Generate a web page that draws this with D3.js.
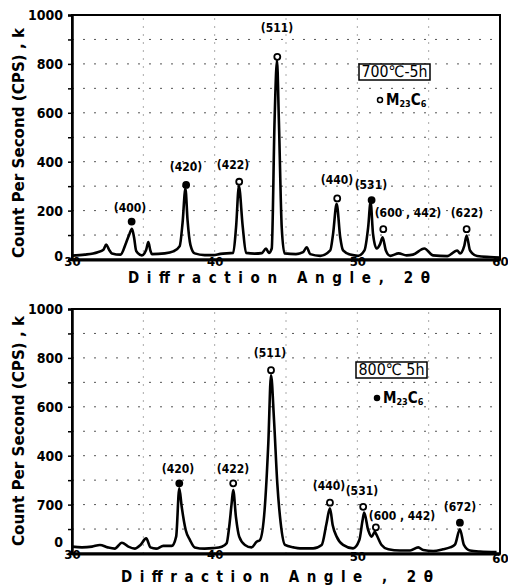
<!DOCTYPE html>
<html>
<head>
<meta charset="utf-8">
<script src="https://cdn.jsdelivr.net/npm/d3@7"></script>
<style>
  body { margin: 0; background: #fff; }
  svg { display: block; }
</style>
</head>
<body>
<script>
// 2-theta / counts
const angle700 = [30.0, 30.9, 31.8, 32.2, 32.4, 32.6, 32.8, 33.4, 33.8, 34.0, 34.2, 34.35, 34.5, 34.9, 35.2, 35.35, 35.5, 35.6, 36.5, 37.1, 37.55, 37.75, 37.95, 38.1, 38.3, 38.6, 39.3, 39.9, 40.4, 41.3, 41.5, 41.7, 41.96, 42.2, 42.8, 43.3, 43.6, 43.8, 44.0, 44.2, 44.37, 44.5, 44.7, 44.9, 45.7, 46.2, 46.45, 46.7, 47.4, 48.1, 48.3, 48.55, 48.8, 49.0, 49.5, 50.05, 50.5, 50.76, 50.93, 51.1, 51.35, 51.6, 51.77, 52.0, 52.3, 52.9, 53.45, 53.9, 54.7, 55.3, 56.3, 57.0, 57.2, 57.5, 57.66, 57.9, 58.4, 59.3, 60.0];
const count700 = [16, 20, 30, 40, 61, 40, 25, 20, 70, 100, 126, 90, 35, 17, 40, 71, 35, 22, 25, 33, 55, 150, 290, 160, 60, 25, 18, 18, 23, 27, 132, 300, 139, 27, 24, 26, 45, 27, 45, 570, 815, 570, 132, 25, 22, 30, 50, 22, 15, 37, 105, 228, 91, 37, 20, 15, 37, 132, 235, 105, 45, 64, 91, 37, 15, 25, 17, 20, 45, 17, 14, 37, 25, 57, 98, 37, 14, 10, 8];

const angle800 = [30.0, 30.7, 31.4, 31.96, 32.5, 33.0, 33.5, 33.95, 34.4, 34.8, 35.2, 35.5, 35.9, 36.4, 36.99, 37.3, 37.52, 37.69, 37.97, 38.27, 38.6, 39.3, 39.9, 40.5, 40.84, 41.02, 41.19, 41.3, 41.49, 41.72, 42.12, 42.59, 42.94, 43.17, 43.5, 43.76, 43.95, 44.16, 44.39, 44.63, 44.93, 45.52, 45.98, 46.9, 47.5, 47.84, 48.08, 48.27, 48.55, 49.0, 49.7, 50.14, 50.37, 50.48, 50.76, 51.0, 51.23, 51.35, 51.7, 52.17, 52.99, 53.7, 54.27, 54.62, 55.32, 56.0, 56.5, 56.84, 57.19, 57.47, 57.89, 58.6, 59.76];
const count800 = [28, 25, 28, 35, 25, 20, 44, 28, 20, 35, 62, 25, 20, 31, 31, 69, 267, 191, 96, 55, 25, 20, 22, 28, 42, 110, 205, 260, 150, 69, 35, 25, 48, 55, 178, 451, 730, 546, 287, 123, 35, 25, 21, 21, 35, 123, 185, 117, 69, 35, 21, 55, 137, 167, 96, 69, 89, 76, 35, 17, 12, 12, 25, 14, 10, 17, 25, 36, 99, 35, 12, 8, 6];

// M23C6 reflections: marker (angle, count) and label anchor (angle, count)
const hkl700 = ["(400)", "(420)", "(422)", "(511)", "(440)", "(531)", "(600 , 442)", "(622)"];
const peakAngle700 = [34.18, 38.0, 41.72, 44.39, 48.59, 51.0, 51.82, 57.66];
const peakCount700 = [155, 305, 318, 829, 250, 243, 124, 124];
const peakFilled700 = [true, true, false, false, false, true, false, false];
const labelAngle700 = [34.06, 37.99, 41.28, 44.37, 48.57, 50.95, 53.55, 57.68];
const labelCount700 = [211, 380, 386, 946, 325, 305, 190, 190];

const hkl800 = ["(420)", "(422)", "(511)", "(440)", "(531)", "(600 , 442)", "(672)"];
const peakAngle800 = [37.52, 41.3, 43.95, 48.08, 50.41, 51.3, 57.19];
const peakCount800 = [287, 287, 750, 208, 191, 107, 126];
const peakFilled800 = [true, false, false, false, false, false, true];
const labelAngle800 = [37.43, 41.28, 43.88, 48.01, 50.32, 53.13, 57.19];
const labelCount800 = [344, 346, 819, 276, 256, 153, 191];

const xTicks = [30, 40, 50, 60];
const yTicks = [0, 100, 200, 300, 400, 500, 600, 700, 800, 900, 1000];
const yLabels700 = {0: "0", 200: "200", 400: "400", 600: "600", 800: "800", 1000: "1000"};
const yLabels800 = {0: "0", 200: "700", 400: "400", 600: "600", 800: "800", 1000: "1000"};
const gridCounts = [100, 200, 300, 400, 500, 600, 700, 800, 900];
const gridAngles = [35, 40, 45, 50, 55];

const narrow = "'Liberation Sans Narrow', 'DejaVu Sans Condensed', 'Arial Narrow', sans-serif";
const cond = "'DejaVu Sans Condensed', 'DejaVu Sans', sans-serif";

const svg = d3.select("body").append("svg")
    .attr("width", 508)
    .attr("height", 588);

function drawPanel(p) {
    const x = d3.scaleLinear().domain([30, 60]).range([72, 500]);
    const y = d3.scaleLinear().domain([0, 1000]).range([p.bottom, p.top]);
    const g = svg.append("g");

    // dotted grid of the recorder paper
    g.selectAll(".hgrid").data(gridCounts).join("line")
        .attr("x1", x(30)).attr("x2", x(60))
        .attr("y1", d => y(d)).attr("y2", d => y(d))
        .attr("stroke", "#555").attr("stroke-width", 1)
        .attr("stroke-dasharray", "2,9");
    g.selectAll(".vgrid").data(gridAngles).join("line")
        .attr("x1", d => x(d)).attr("x2", d => x(d))
        .attr("y1", y(0)).attr("y2", y(1000))
        .attr("stroke", "#555").attr("stroke-width", 1)
        .attr("stroke-dasharray", "1,7");

    // frame
    g.append("rect")
        .attr("x", x(30)).attr("y", y(1000))
        .attr("width", x(60) - x(30)).attr("height", y(0) - y(1000))
        .attr("fill", "none").attr("stroke", "#000").attr("stroke-width", 2);

    // axes
    const yAxis = g.append("g")
        .attr("transform", `translate(${x(30)},0)`)
        .call(d3.axisLeft(y).tickValues(yTicks).tickSize(4).tickPadding(5)
            .tickFormat(d => p.yLabels[d] || ""));
    yAxis.select(".domain").attr("stroke-width", 2.5);
    yAxis.selectAll("line").attr("stroke-width", 1.5);
    yAxis.selectAll("text")
        .attr("font-family", narrow).attr("font-weight", "bold").attr("font-size", 14)
        .attr("fill", "#000")
        .attr("dy", d => d === 0 ? `${p.zeroShift}px` : "0.32em");

    const xAxis = g.append("g")
        .attr("transform", `translate(0,${y(0)})`)
        .call(d3.axisBottom(x).tickValues(xTicks).tickSize(0).tickPadding(0));
    xAxis.select(".domain").attr("stroke-width", 3);
    xAxis.selectAll("text")
        .attr("font-family", narrow).attr("font-weight", "bold").attr("font-size", 13)
        .attr("fill", "#000")
        .attr("y", (d, i) => p.xLabelY[i])
        .attr("dy", "0.71em");

    // diffraction trace
    const line = d3.line()
        .x(d => x(d[0]))
        .y(d => y(d[1]))
        .curve(d3.curveMonotoneX);
    g.append("path")
        .datum(d3.zip(p.angle, p.count))
        .attr("fill", "none")
        .attr("stroke", "#000")
        .attr("stroke-width", 2.6)
        .attr("stroke-linejoin", "round")
        .attr("d", line);

    // peak markers
    g.selectAll(".peak").data(p.peakAngle).join("circle")
        .attr("cx", d => x(d))
        .attr("cy", (d, i) => y(p.peakCount[i]))
        .attr("r", 3)
        .attr("fill", (d, i) => p.peakFilled[i] ? "#000" : "#fff")
        .attr("stroke", "#000").attr("stroke-width", 1.8);

    g.selectAll(".hkl").data(p.hkl).join("text")
        .attr("x", (d, i) => x(p.labelAngle[i]))
        .attr("y", (d, i) => y(p.labelCount[i]))
        .attr("text-anchor", "middle")
        .attr("dominant-baseline", "central")
        .attr("font-family", narrow).attr("font-weight", "bold").attr("font-size", 12)
        .text(d => d);

    // condition box + legend
    const bx = p.box[0], by = p.box[1];
    g.append("rect")
        .attr("x", bx).attr("y", by).attr("width", 71).attr("height", 16)
        .attr("fill", "#fff").attr("stroke", "#000").attr("stroke-width", 1.5);
    g.append("text")
        .attr("x", bx + 35.5).attr("y", by + 13)
        .attr("text-anchor", "middle")
        .attr("font-family", narrow).attr("font-size", 16)
        .attr("textLength", 66).attr("lengthAdjust", "spacingAndGlyphs")
        .text(p.condition);

    g.append("circle")
        .attr("cx", bx + 21).attr("cy", by + 36).attr("r", 2.5)
        .attr("fill", p.legendFilled ? "#000" : "#fff")
        .attr("stroke", "#000").attr("stroke-width", 1.5);
    const leg = g.append("text")
        .attr("x", bx + 27).attr("y", by + 41)
        .attr("font-family", narrow).attr("font-weight", "bold").attr("font-size", 15);
    leg.append("tspan").text("M");
    leg.append("tspan").attr("font-size", 9).attr("dy", 2).text("23");
    leg.append("tspan").attr("dy", -2).text("C");
    leg.append("tspan").attr("font-size", 9).attr("dy", 2).text("6");

    // axis titles
    g.append("text")
        .attr("transform", `translate(24,${p.yTitleY}) rotate(-90)`)
        .attr("text-anchor", "middle")
        .attr("font-family", cond).attr("font-weight", "bold").attr("font-size", 16)
        .attr("textLength", 230).attr("lengthAdjust", "spacingAndGlyphs")
        .text("Count Per Second (CPS) , k");

    g.append("text")
        .attr("x", p.xTitle[0]).attr("y", p.xTitle[1])
        .attr("font-family", cond).attr("font-weight", "bold").attr("font-size", 15)
        .attr("textLength", p.xTitle[2]).attr("lengthAdjust", "spacing")
        .text(p.xTitleText);
}

drawPanel({
    top: 15, bottom: 259.5,
    angle: angle700, count: count700,
    hkl: hkl700, peakAngle: peakAngle700, peakCount: peakCount700, peakFilled: peakFilled700,
    labelAngle: labelAngle700, labelCount: labelCount700,
    yLabels: yLabels700, zeroShift: 1,
    xLabelY: [-3, -3, -3, -3],
    box: [359, 64], condition: "700℃-5h", legendFilled: false,
    yTitleY: 143,
    xTitle: [128, 283, 302], xTitleText: "Diffraction Angle, 2θ"
});

drawPanel({
    top: 309, bottom: 553.5,
    angle: angle800, count: count800,
    hkl: hkl800, peakAngle: peakAngle800, peakCount: peakCount800, peakFilled: peakFilled800,
    labelAngle: labelAngle800, labelCount: labelCount800,
    yLabels: yLabels800, zeroShift: -7,
    xLabelY: [-4, -4, -2, 0],
    box: [356, 362], condition: "800℃ 5h", legendFilled: true,
    yTitleY: 431,
    xTitle: [121, 582, 312], xTitleText: "Diffraction Angle , 2θ"
});
</script>
</body>
</html>
